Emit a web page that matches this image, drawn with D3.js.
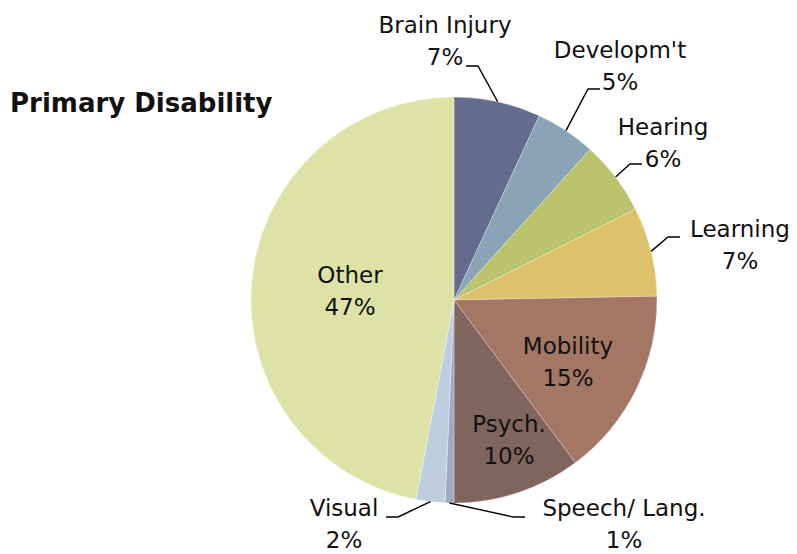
<!DOCTYPE html>
<html>
<head>
<meta charset="utf-8">
<script src="https://cdn.jsdelivr.net/npm/d3@7"></script>
<style>
  body { margin: 0; background: #fff; }
  text { font-family: "DejaVu Sans", sans-serif; fill: #111; }
</style>
</head>
<body>
<div id="chart"></div>
<script>
// Chart data
const categories = ["Brain Injury", "Developm't", "Hearing", "Learning", "Mobility", "Psych.", "Speech/ Lang.", "Visual", "Other"];
const shares = [6.9, 4.8, 5.9, 7.1, 15.1, 10.2, 0.7, 2.3, 47.0];
const colors = ["#636b8e", "#8ba3b6", "#bbc36c", "#dec16b", "#a47664", "#7f655d", "#a3a6c4", "#bdcfdf", "#dde2a7"];

// Label placement, relative to the pie centre
// pos = [x centre of text, baseline of first line]
// outside labels also get a leader elbow and the side the short tick points to
const labelLayout = {
    "Brain Injury": { pos: [-9, -267], elbow: [24, -234], side: -1 },
    "Developm't": { pos: [166, -242], elbow: [134, -211], side: 1 },
    "Hearing": { pos: [209, -165], elbow: [176, -136], side: 1 },
    "Learning": { pos: [286, -63], elbow: [214, -63], side: 1 },
    "Mobility": { pos: [114, 54] },
    "Psych.": { pos: [55, 132] },
    "Speech/ Lang.": { pos: [170, 216], elbow: [59, 217], side: 1 },
    "Visual": { pos: [-110, 216], elbow: [-56, 217], side: -1 },
    "Other": { pos: [-104, -17] }
};

const width = 797, height = 554;
const cx = 454, cy = 300, radius = 203;
const lineGap = 32;

const svg = d3.select("#chart")
    .append("svg")
    .attr("width", width)
    .attr("height", height);

svg.append("text")
    .attr("x", 10)
    .attr("y", 112)
    .style("font-size", "26px")
    .style("font-weight", "bold")
    .text("Primary Disability");

const data = categories.map((c, i) => ({ name: c, value: shares[i], color: colors[i] }));

const pie = d3.pie().value(d => d.value).sort(null);
const arc = d3.arc().innerRadius(0).outerRadius(radius);
const arcs = pie(data);

const g = svg.append("g").attr("transform", `translate(${cx},${cy})`);

g.selectAll("path.slice")
    .data(arcs)
    .enter()
    .append("path")
    .attr("class", "slice")
    .attr("d", arc)
    .attr("fill", d => d.data.color)
    .attr("stroke", "#ffffff")
    .attr("stroke-opacity", 0.5)
    .attr("stroke-width", 0.6);

// point on the rim in the middle of a slice
const edgePoint = d => {
    const a = (d.startAngle + d.endAngle) / 2;
    return [radius * Math.sin(a), -radius * Math.cos(a)];
};

arcs.forEach(d => {
    const lay = labelLayout[d.data.name];
    const pct = Math.round(d.data.value) + "%";
    if (lay.elbow) {
        const p0 = edgePoint(d);
        const p1 = lay.elbow;
        const p2 = [p1[0] + lay.side * 12, p1[1]];
        g.append("polyline")
            .attr("points", [p0, p1, p2].map(p => p.join(",")).join(" "))
            .attr("fill", "none")
            .attr("stroke", "#000")
            .attr("stroke-width", 1.4);
    }
    const t = g.append("text")
        .attr("text-anchor", "middle")
        .style("font-size", "23px");
    t.append("tspan").attr("x", lay.pos[0]).attr("y", lay.pos[1]).text(d.data.name);
    t.append("tspan").attr("x", lay.pos[0]).attr("y", lay.pos[1] + lineGap).text(pct);
});
</script>
</body>
</html>
